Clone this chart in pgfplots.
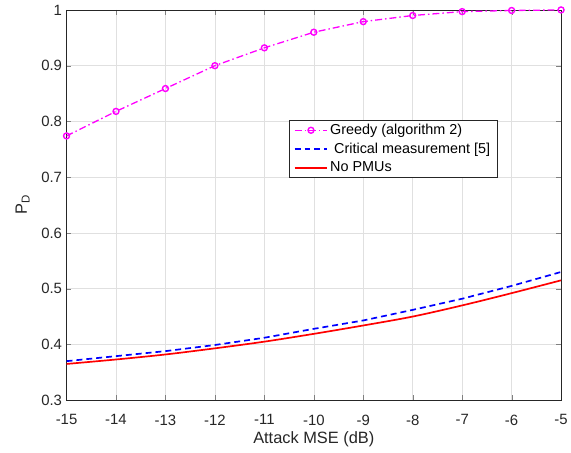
\documentclass[border=0pt]{standalone}
\usepackage{pgfplots}
\pgfplotsset{compat=1.18}
\usepackage{fontspec}
\setmainfont{Liberation Sans}
\definecolor{mag}{rgb}{1,0,1}
\definecolor{axgray}{rgb}{0.15,0.15,0.15}
\begin{document}
\begin{tikzpicture}
\begin{axis}[
  name=ax,
  scale only axis,
  width=498pt, height=393pt,
  xmin=-15, xmax=-5, ymin=0.3, ymax=1,
  xtick={-15,-14,...,-5},
  ytick={0.3,0.4,...,1.0},
  yticklabels={0.3,0.4,0.5,0.6,0.7,0.8,0.9,1},
  /pgf/number format/assume math mode=true,
  tick label style={font=\fontsize{15}{17}\selectfont, text=axgray},
  xticklabel style={yshift=-11pt},
  yticklabel style={xshift=-1pt},
  tick align=inside,
  tick pos=both,
  major tick length=5pt,
  axis line style={axgray, line width=0.6pt},
  grid=major,
  major grid style={black!12, line width=0.6pt},
  xlabel={Attack MSE (dB)},
  ylabel={P\textsubscript{D}},
  label style={font=\fontsize{16.5}{19}\selectfont, text=axgray},
  xlabel style={yshift=0pt},
  ylabel style={yshift=5pt},
  legend style={at={(0.449,0.7176)}, anchor=north west, draw=axgray,
    font=\fontsize{14.5}{17}\selectfont, row sep=3pt, inner xsep=5pt, inner ysep=2pt, fill=white},
  legend cell align=left,
  legend image code/.code={\draw[mark repeat=2,mark phase=2] plot coordinates {(0pt,0pt) (16.5pt,0pt) (33pt,0pt)};},
]
\addplot[mag, line width=1.3pt, dash pattern=on 7pt off 3pt on 1.5pt off 3pt, mark=o, mark size=3pt, mark options={solid, line width=1.4pt, fill=mag!60}] coordinates {
(-15,0.774) (-14,0.818) (-13,0.859) (-12,0.900) (-11,0.932) (-10,0.960)
(-9,0.979) (-8,0.990) (-7,0.997) (-6,0.999) (-5,1.000)};
\addlegendentry{Greedy (algorithm 2)}
\addplot[blue, line width=1.7pt, dash pattern=on 6pt off 4pt] coordinates {
(-15,0.370) (-14,0.379) (-13,0.388) (-12,0.399) (-11,0.412) (-10,0.428)
(-9,0.443) (-8,0.462) (-7,0.482) (-6,0.505) (-5,0.530)};
\addlegendentry{\ Critical measurement [5]}
\addplot[red, line width=1.7pt, smooth] coordinates {
(-15,0.365) (-14,0.373) (-13,0.382) (-12,0.393) (-11,0.405) (-10,0.419)
(-9,0.434) (-8,0.450) (-7,0.470) (-6,0.492) (-5,0.515)};
\addlegendentry{No PMUs}
\end{axis}
\useasboundingbox ([xshift=-67pt,yshift=-53pt]ax.south west) rectangle ([xshift=6pt,yshift=10pt]ax.north east);
\end{tikzpicture}
\end{document}
